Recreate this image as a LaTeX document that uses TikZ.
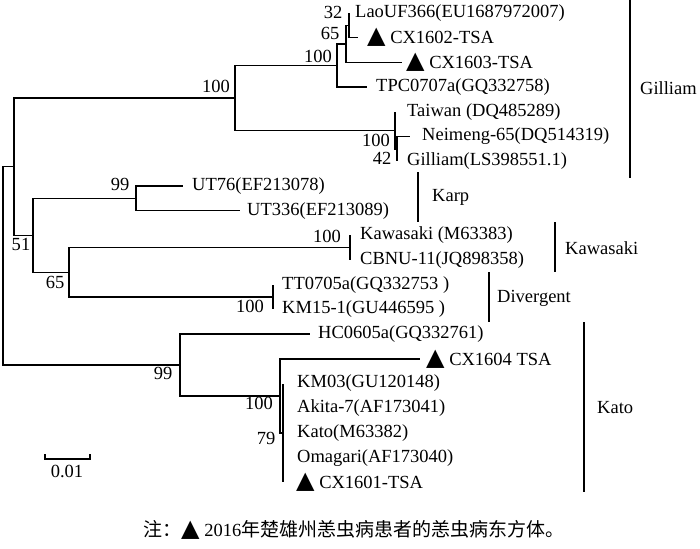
\documentclass[tikz,border=0pt]{standalone}
\usepackage{fontspec}
\setmainfont{Liberation Serif}
\newfontfamily\cjk{Noto Sans CJK SC}
\newfontfamily\dvs{DejaVu Sans}
\newcommand\tri{{\dvs\fontsize{24}{24}\selectfont ▲}}
\begin{document}
\begin{tikzpicture}[x=1pt,y=-1pt,
  font=\fontsize{18.5}{22}\selectfont,
  br/.style={line width=1.4pt},
  bar/.style={line width=1.3pt},
  leaf/.style={anchor=west,inner sep=0pt},
  boot/.style={inner sep=0pt},
  clade/.style={anchor=west,inner sep=0pt}]
\useasboundingbox (0,0) rectangle (700,548);
% internal nodes
\coordinate (r) at (3,265.8);
\coordinate (u) at (14,166.6);
\coordinate (g) at (235,97.9);
\coordinate (n100a) at (337,65.5);
\coordinate (n65a) at (346,43.9);
\coordinate (n32) at (349,25.35);
\coordinate (tw) at (395,130.3);
\coordinate (n42) at (397,148.85);
\coordinate (n51) at (33,235.3);
\coordinate (karp) at (136,198.25);
\coordinate (n65b) at (69,272.35);
\coordinate (kaw) at (350,247.65);
\coordinate (div) at (273,297.05);
\coordinate (k99) at (180,365.0);
\coordinate (k100) at (280,395.85);
\coordinate (k79) at (283,432.9);
% leaves
\coordinate (L0) at (349,13);
\coordinate (L1) at (358,37.7);
\coordinate (L2) at (402,62.4);
\coordinate (L3) at (367,87.1);
\coordinate (L4) at (395,111.8);
\coordinate (L5) at (410,136.5);
\coordinate (L6) at (397,161.2);
\coordinate (L7) at (183,185.9);
\coordinate (L8) at (240,210.6);
\coordinate (L9) at (350,235.3);
\coordinate (L10) at (350,260);
\coordinate (L11) at (273,284.7);
\coordinate (L12) at (273,309.4);
\coordinate (L13) at (310,334.1);
\coordinate (L14) at (420,358.8);
\coordinate (L15) at (283,383.5);
\coordinate (L16) at (283,408.2);
\coordinate (L17) at (283,432.9);
\coordinate (L18) at (283,457.6);
\coordinate (L19) at (283,482.3);
% edges
\draw[br] (r) |- (u);   \draw[br] (r) |- (k99);
\draw[br] (u) |- (g);   \draw[br] (u) |- (n51);
\draw[br] (g) |- (n100a); \draw[br] (g) |- (tw);
\draw[br] (n100a) |- (n65a); \draw[br] (n100a) |- (L3);
\draw[br] (n65a) |- (n32); \draw[br] (n65a) |- (L2);
\draw[br] (n32) |- (L0); \draw[br] (n32) |- (L1);
\draw[br] (tw) |- (L4); \draw[br] (tw) |- (n42);
\draw[br] (n42) |- (L5); \draw[br] (n42) |- (L6);
\draw[br] (n51) |- (karp); \draw[br] (n51) |- (n65b);
\draw[br] (karp) |- (L7); \draw[br] (karp) |- (L8);
\draw[br] (n65b) |- (kaw); \draw[br] (n65b) |- (div);
\draw[br] (kaw) |- (L9); \draw[br] (kaw) |- (L10);
\draw[br] (div) |- (L11); \draw[br] (div) |- (L12);
\draw[br] (k99) |- (L13); \draw[br] (k99) |- (k100);
\draw[br] (k100) |- (L14); \draw[br] (k100) |- (k79);
\draw[br] (k79) |- (L15); \draw[br] (k79) |- (L16); \draw[br] (k79) |- (L17);
\draw[br] (k79) |- (L18); \draw[br] (k79) |- (L19);
% leaf labels
\node[leaf] (t0) at (355,13) {LaoUF366(EU1687972007)};
\node[leaf] (t1) at (367,37.7) {\tri{} CX1602-TSA};
\node[leaf] (t2) at (406,62.4) {\tri{} CX1603-TSA};
\node[leaf] (t3) at (376,87.1) {TPC0707a(GQ332758)};
\node[leaf] (t4) at (407,111.8) {Taiwan (DQ485289)};
\node[leaf] (t5) at (422,136.5) {Neimeng-65(DQ514319)};
\node[leaf] (t6) at (407,161.2) {Gilliam(LS398551.1)};
\node[leaf] (t7) at (192,185.9) {UT76(EF213078)};
\node[leaf] (t8) at (247,210.6) {UT336(EF213089)};
\node[leaf] (t9) at (360,235.3) {Kawasaki (M63383)};
\node[leaf] (t10) at (360,260) {CBNU-11(JQ898358)};
\node[leaf] (t11) at (282,284.7) {TT0705a(GQ332753 )};
\node[leaf] (t12) at (282,309.4) {KM15-1(GU446595 )};
\node[leaf] (t13) at (318,334.1) {HC0605a(GQ332761)};
\node[leaf] (t14) at (426,358.8) {\tri{} CX1604 TSA};
\node[leaf] (t15) at (297,383.5) {KM03(GU120148)};
\node[leaf] (t16) at (297,408.2) {Akita-7(AF173041)};
\node[leaf] (t17) at (297,432.9) {Kato(M63382)};
\node[leaf] (t18) at (297,457.6) {Omagari(AF173040)};
\node[leaf] (t19) at (296,482.3) {\tri{} CX1601-TSA};
% bootstrap values
\node[boot] (b32) at (333,12) {32};
\node[boot] (b65a) at (330,33) {65};
\node[boot] (b100a) at (318,56) {100};
\node[boot] (b100g) at (216,86) {100};
\node[boot] (b100t) at (376,140) {100};
\node[boot] (b42) at (382,158) {42};
\node[boot] (b99k) at (120,184) {99};
\node[boot] (b51) at (21,244) {51};
\node[boot] (b65b) at (55,282) {65};
\node[boot] (b100w) at (327,236) {100};
\node[boot] (b100d) at (250,306) {100};
\node[boot] (b99o) at (163,373) {99};
\node[boot] (b100o) at (259,403) {100};
\node[boot] (b79) at (266,438) {79};
% clade bars
\coordinate (gA) at (630,0);   \coordinate (gB) at (630,178);
\coordinate (pA) at (418,172); \coordinate (pB) at (418,222);
\coordinate (wA) at (555,222); \coordinate (wB) at (555,272);
\coordinate (dA) at (489,272); \coordinate (dB) at (489,322);
\coordinate (oA) at (584,322); \coordinate (oB) at (584,492);
\draw[bar] (gA) -- (gB);
\draw[bar] (pA) -- (pB);
\draw[bar] (wA) -- (wB);
\draw[bar] (dA) -- (dB);
\draw[bar] (oA) -- (oB);
\node[clade] (cg) at (640,88) {Gilliam};
\node[clade] (cp) at (432,197) {Karp};
\node[clade] (cw) at (565,248) {Kawasaki};
\node[clade] (cd) at (497,298) {Divergent};
\node[clade] (co) at (597,408) {Kato};
% scale bar
\coordinate (s1) at (45,459); \coordinate (s2) at (90,459);
\coordinate (s1t) at (45,454); \coordinate (s2t) at (90,454);
\draw[line width=1.2pt] (s1t) -- (s1) -- (s2) -- (s2t);
\node[boot] (sl) at (67,471) {0.01};
% caption
\node[leaf] (cap) at (143,530) {{\cjk\fontsize{19}{22}\selectfont 注：}\tri{} 2016{\cjk\fontsize{19}{22}\selectfont 年楚雄州恙虫病患者的恙虫病东方体。}};
\end{tikzpicture}
\end{document}
